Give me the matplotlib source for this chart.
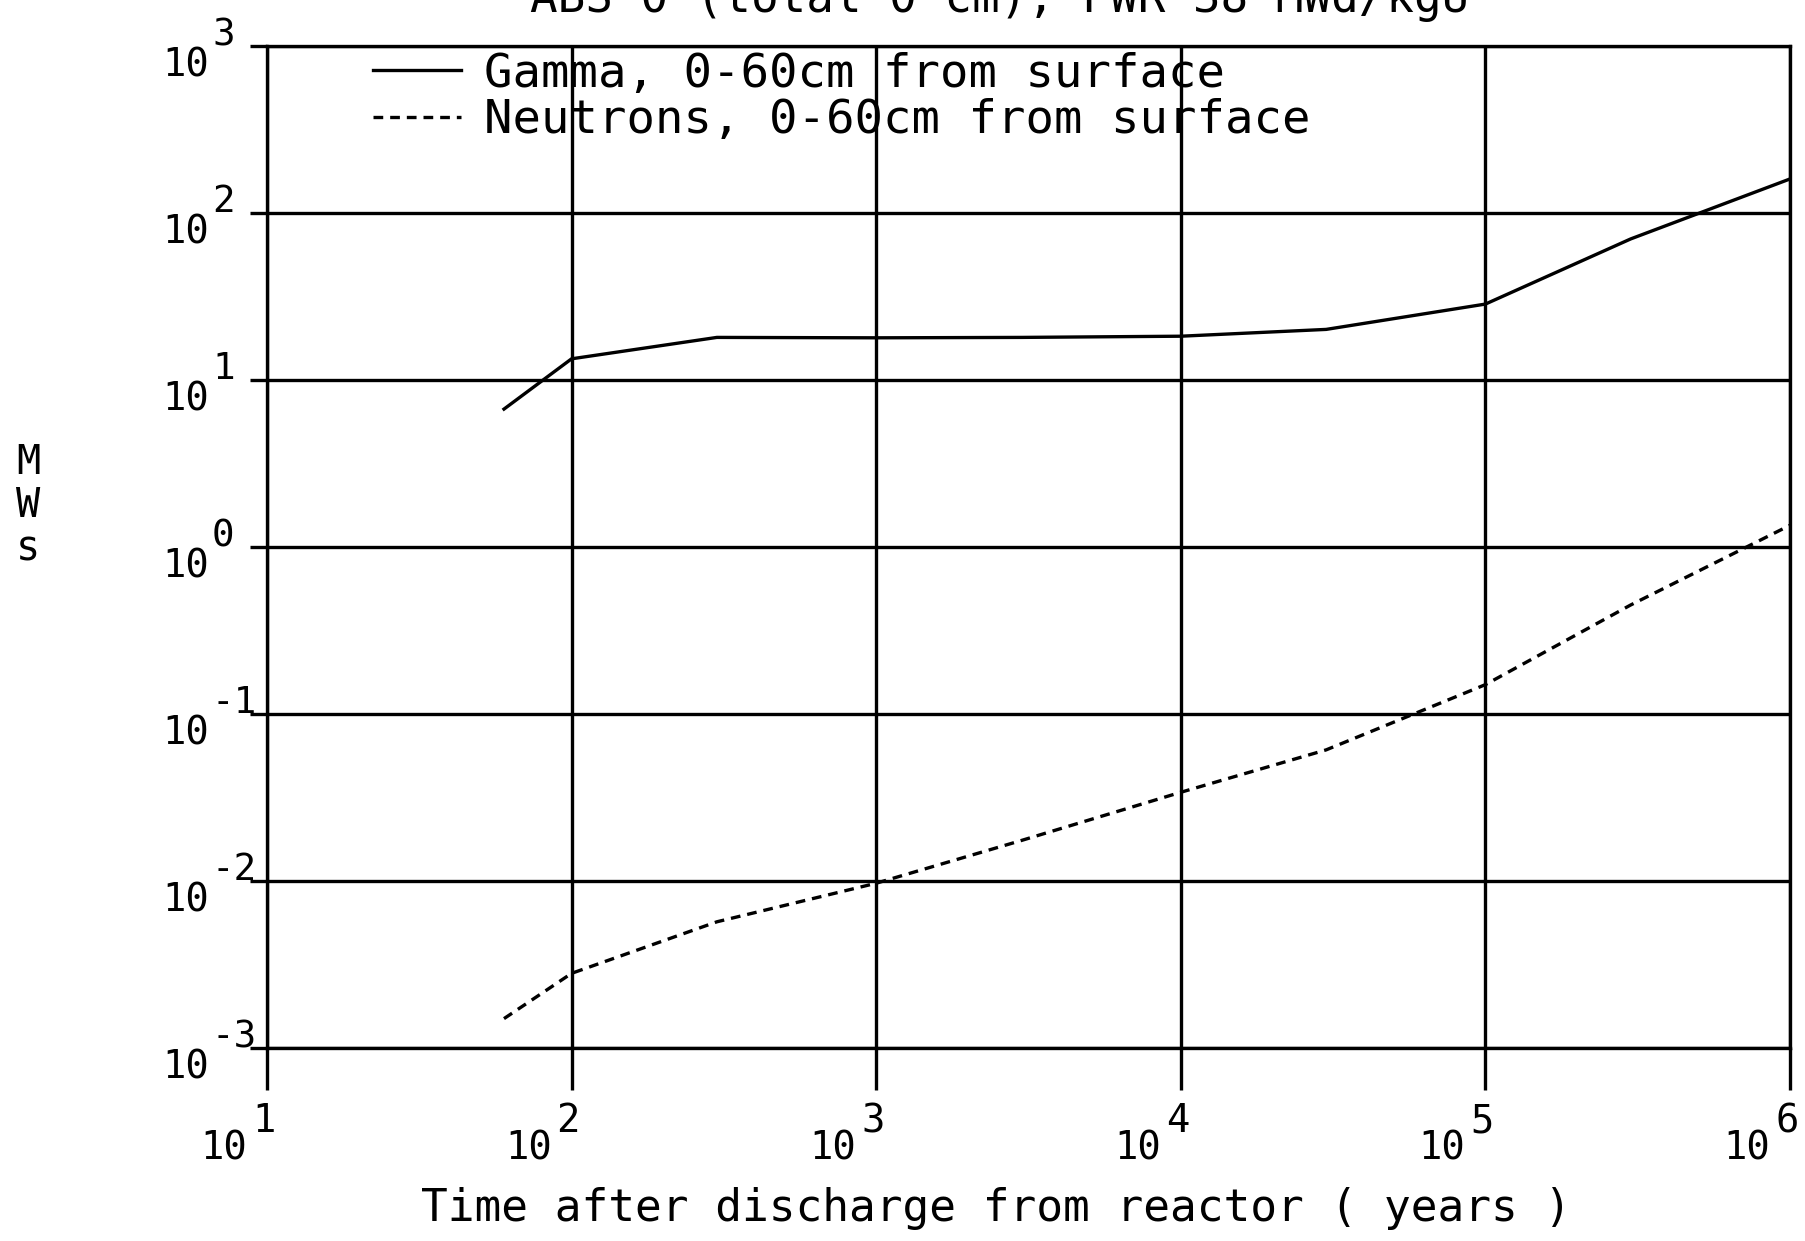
import numpy as np
import matplotlib
matplotlib.use("Agg")
import matplotlib.pyplot as plt
import matplotlib.transforms as mtransforms

# data (years vs MWs)
years = [60, 100, 300, 1000, 3000, 1e4, 3e4, 1e5, 3e5, 1e6]
gamma = [6.7, 13.4, 18.0, 17.9, 18.0, 18.3, 20.1, 28.5, 70.0, 160.0]
neutrons = [1.5e-3, 2.8e-3, 5.7e-3, 9.7e-3, 0.0175, 0.034, 0.061, 0.15, 0.45, 1.35]

x_exps = [1, 2, 3, 4, 5, 6]
y_exps = [3, 2, 1, 0, -1, -2, -3]

title = "ABS 0 (total 0 cm), PWR 38 MWd/kgU"
gamma_label = "Gamma, 0-60cm from surface"
neutron_label = "Neutrons, 0-60cm from surface"
xlabel = "Time after discharge from reactor ( years )"

plt.rcParams['font.family'] = ['DejaVu Sans Mono', 'DejaVu Sans']
plt.rcParams['lines.scale_dashes'] = False

fig = plt.figure(figsize=(18.05, 12.41), dpi=100)
ax = fig.add_axes([0.1479, 0.1555, 0.8438, 0.8074])

lw = 2.4
ax.plot(years, gamma, color='black', lw=lw, label=gamma_label)
ax.plot(years, neutrons, color='black', lw=lw, dashes=(7, 5), label=neutron_label)

ax.set_xscale('log')
ax.set_yscale('log')
ax.set_xlim(10, 1e6)
ax.set_ylim(1e-3, 1e3)

ax.set_xticks([10.0 ** e for e in x_exps])
ax.set_yticks([10.0 ** e for e in y_exps])
ax.xaxis.set_minor_locator(matplotlib.ticker.NullLocator())
ax.yaxis.set_minor_locator(matplotlib.ticker.NullLocator())
ax.set_xticklabels([])
ax.set_yticklabels([])
ax.tick_params(axis='x', direction='out', length=30, width=lw, color='black')
ax.tick_params(axis='y', direction='out', length=12, width=lw, color='black')
ax.grid(True, color='black', lw=lw)
for s in ax.spines.values():
    s.set_linewidth(lw)
    s.set_color('black')

# tick labels drawn as "10" with a raised exponent, like the plotter output
xt = mtransforms.blended_transform_factory(ax.transData, ax.transAxes)
for e in x_exps:
    tr_base = mtransforms.offset_copy(xt, fig=fig, x=-20, y=-111, units='dots')
    tr_exp = mtransforms.offset_copy(xt, fig=fig, x=-15, y=-84, units='dots')
    ax.text(10.0 ** e, 0, "10", transform=tr_base, ha='right', va='baseline', fontsize=28)
    ax.text(10.0 ** e, 0, str(e), transform=tr_exp, ha='left', va='baseline', fontsize=28)

yt = mtransforms.blended_transform_factory(ax.transAxes, ax.transData)
for e in y_exps:
    tr_base = mtransforms.offset_copy(yt, fig=fig, x=-58, y=-30, units='dots')
    tr_exp = mtransforms.offset_copy(yt, fig=fig, x=-55, y=1, units='dots')
    ax.text(0, 10.0 ** e, "10", transform=tr_base, ha='right', va='baseline', fontsize=28)
    ax.text(0, 10.0 ** e, str(e), transform=tr_exp, ha='left', va='baseline', fontsize=27)

fig.text(0.0155, 0.643, "M\nW\ns", ha='center', va='top', fontsize=29, linespacing=1.10)
fig.text(0.552, 0.016, xlabel, ha='center', va='baseline', fontsize=32)
fig.text(0.554, 0.990, title, ha='center', va='baseline', fontsize=33)

ax.legend(loc='upper left', bbox_to_anchor=(0.066, 1.0), frameon=False, fontsize=34,
          handlelength=1.85, handletextpad=0.5, labelspacing=0.03, borderpad=0.12,
          borderaxespad=0)

fig.savefig("out.png", dpi=100, facecolor='white')
